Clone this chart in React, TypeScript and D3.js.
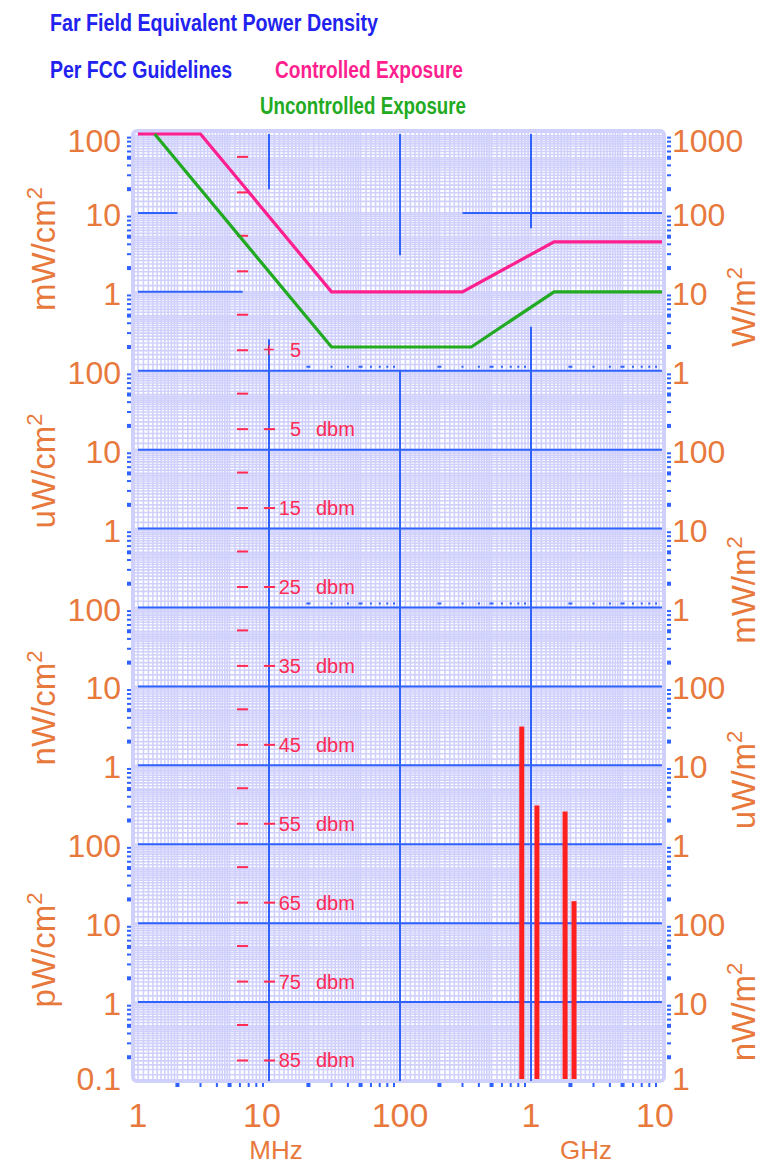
import React from "react";
import * as d3 from "d3";

const WIDTH = 778;
const HEIGHT = 1167;

// frequency in MHz, power density in mW/cm²
const controlledFreq = [1, 3, 30, 300, 1500, 10000];
const controlledDensity = [100, 100, 1, 1, 4.3, 4.3];
const uncontrolledFreq = [1.34, 30, 350, 1500, 10000];
const uncontrolledDensity = [100, 0.2, 0.2, 1, 1];

// measured signals
const signalFreq = [850, 1110, 1820, 2130];
const signalDensity = [3.1e-6, 3.1e-7, 2.6e-7, 1.9e-8];

const xTickValues = [1, 10, 100, 1000, 10000];
const xTickLabels = ["1", "10", "100", "1", "10"];

const yTickValues = [100, 10, 1, 0.1, 0.01, 0.001, 1e-4, 1e-5, 1e-6, 1e-7, 1e-8, 1e-9, 1e-10];
const leftTickLabels = ["100", "10", "1", "100", "10", "1", "100", "10", "1", "100", "10", "1", "0.1"];
const rightTickLabels = ["1000", "100", "10", "1", "100", "10", "1", "100", "10", "1", "100", "10", "1"];

const leftUnits = ["mW/cm", "uW/cm", "nW/cm", "pW/cm"];
const rightUnits = ["W/m", "mW/m", "uW/m", "nW/m"];

// dBm scale (density = 10^((dBm - offset)/10))
const dbmOffset = 12.4;
const dbmLabelValues = [5, -5, -15, -25, -35, -45, -55, -65, -75, -85];
const dbmTickValues = [29.5, 25, 19.5, 15, 9.5, 5, -0.5, -5, -10.5, -15, -20.5, -25, -30.5, -35, -40.5, -45, -50.5, -55, -60.5, -65, -70.5, -75, -80.5, -85];

// blue major grid segments
const majorHDensity = [10, 10, 1, 0.1, 0.01, 0.001, 1e-4, 1e-5, 1e-6, 1e-7, 1e-8, 1e-9];
const majorHFrom = [1, 300, 1, 1, 1, 1, 1, 1, 1, 1, 1, 1];
const majorHTo = [2, 10000, 6.3, 10000, 10000, 10000, 10000, 10000, 10000, 10000, 10000, 10000];
const majorVFreq = [10, 10, 100, 100, 1000, 1000];
const majorVTop = [100, 0.25, 100, 0.1, 100, 0.36];
const majorVBottom = [20, 1e-10, 2.9, 1e-10, 6.4, 1e-10];

// inner tick rows (density level)
const innerTickRowDensity = [0.1, 1e-4];

const ORANGE = "#e8793d";
const BLUE = "#2f62ff";
const LAVENDER = "#d0d0fc";
const PINK = "#ff1f8e";
const GREEN = "#22aa22";
const DBM_RED = "#ff2a55";
const BAR_RED = "#ff2020";
const TITLE_BLUE = "#2222f0";
const FONT = "'Liberation Sans', Arial, sans-serif";

const x = d3.scaleLog().domain([1, 10000]).range([138, 662]);
const y = d3.scaleLog().domain([100, 1e-10]).range([134, 1081]);
const dbmY = (d: number) => y(Math.pow(10, (d - dbmOffset) / 10));

function subdivisions(steps: [number, number, number][], decades: number[]) {
  const out: number[] = [];
  decades.forEach((k) => {
    const base = Math.pow(10, k);
    steps.forEach(([a, b, s]) => {
      d3.range(a, b - 1e-9, s).forEach((v) => out.push(v * base));
    });
  });
  return out;
}

const minorX = subdivisions([[1, 2, 0.1], [2, 5, 0.2], [5, 10, 0.5]], [0, 1, 2, 3]);
const minorY = subdivisions([[1, 2, 0.2], [2, 5, 0.25], [5, 10, 0.5]], d3.range(-10, 2));
const axisTickMult = [2, 3, 4, 5, 6, 7, 8, 9];

export default function App() {
  const left = x(1) - 5;
  const right = x(10000) + 2;
  const top = y(100) - 3;
  const bottom = y(1e-10);

  const line = d3
    .line<[number, number]>()
    .x((d) => x(d[0]))
    .y((d) => y(d[1]));

  const controlled = controlledFreq.map((f, i) => [f, controlledDensity[i]] as [number, number]);
  const uncontrolled = uncontrolledFreq.map((f, i) => [f, uncontrolledDensity[i]] as [number, number]);

  const xAxisTicks: { v: number; big: boolean }[] = [];
  [1, 10, 100, 1000].forEach((b) =>
    axisTickMult.forEach((m) => xAxisTicks.push({ v: b * m, big: m === 2 || m === 5 }))
  );
  const yAxisTicks: { v: number; big: boolean }[] = [];
  d3.range(-10, 2).forEach((k) =>
    axisTickMult.forEach((m) => yAxisTicks.push({ v: Math.pow(10, k) * m, big: m === 2 || m === 5 }))
  );
  const innerTicks = xAxisTicks.filter((t) => t.v >= 20);

  const unitCentersLeft = [249, 471, 708, 950];
  const unitCentersRight = [307, 590, 780, 1012];

  return (
    <div style={{ position: "absolute", left: 0, top: 0 }}>
      <svg width={WIDTH} height={HEIGHT} style={{ display: "block", background: "#fff" }}>
        {/* titles */}
        <g fontFamily={FONT} fontWeight="bold" fontSize={23}>
          <text x={50} y={31} fill={TITLE_BLUE} textLength={328} lengthAdjust="spacingAndGlyphs">
            Far Field Equivalent Power Density
          </text>
          <text x={50} y={78} fill={TITLE_BLUE} textLength={182} lengthAdjust="spacingAndGlyphs">
            Per FCC Guidelines
          </text>
          <text x={275} y={78} fill={PINK} textLength={188} lengthAdjust="spacingAndGlyphs">
            Controlled Exposure
          </text>
          <text x={260} y={114} fill={GREEN} textLength={206} lengthAdjust="spacingAndGlyphs">
            Uncontrolled Exposure
          </text>
        </g>

        {/* plot background */}
        <rect x={left} y={top} width={right - left} height={bottom - top} fill="#fff" />
        <g stroke={LAVENDER} strokeWidth={1.6}>
          {minorX.map((v, i) => (
            <line key={"mx" + i} x1={x(v)} x2={x(v)} y1={top} y2={bottom} />
          ))}
          {minorY.map((v, i) => (
            <line key={"my" + i} x1={left} x2={right} y1={y(v)} y2={y(v)} />
          ))}
        </g>
        <rect
          x={left}
          y={top}
          width={right - left}
          height={bottom - top}
          fill="none"
          stroke={LAVENDER}
          strokeWidth={4}
          rx={4}
        />

        {/* blue major grid */}
        <g stroke={BLUE} strokeWidth={2}>
          {majorHDensity.map((d, i) => (
            <line key={"h" + i} x1={x(majorHFrom[i])} x2={x(majorHTo[i])} y1={y(d)} y2={y(d)} />
          ))}
          {majorVFreq.map((f, i) => (
            <line key={"v" + i} x1={x(f)} x2={x(f)} y1={y(majorVTop[i])} y2={y(majorVBottom[i])} />
          ))}
        </g>

        {/* blue axis ticks */}
        <g fill={BLUE}>
          {xAxisTicks.map((t, i) => (
            <rect
              key={"bt" + i}
              x={x(t.v) - (t.big ? 2 : 1)}
              y={bottom + 2}
              width={t.big ? 4 : 2}
              height={4}
            />
          ))}
          {innerTickRowDensity.map((d, r) =>
            innerTicks.map((t, i) => (
              <rect
                key={"it" + r + "-" + i}
                x={x(t.v) - (t.big ? 2 : 1)}
                y={y(d) - 5}
                width={t.big ? 4 : 2}
                height={2}
              />
            ))
          )}
          {yAxisTicks.map((t, i) => (
            <g key={"yt" + i}>
              <rect x={left - 6} y={y(t.v) - (t.big ? 2 : 1)} width={4} height={t.big ? 4 : 2} />
              <rect x={right + 3} y={y(t.v) - (t.big ? 2 : 1)} width={4} height={t.big ? 4 : 2} />
            </g>
          ))}
        </g>

        {/* dBm scale */}
        <g fill={DBM_RED}>
          {dbmTickValues.map((d, i) => (
            <rect key={"dt" + i} x={237} y={dbmY(d) - 1} width={11} height={2} />
          ))}
        </g>
        <g fontFamily={FONT} fontSize={20} fill={DBM_RED}>
          {dbmLabelValues.map((d, i) => (
            <g key={"dl" + i}>
              {d > 0 ? (
                <text x={x(10)} y={dbmY(d) + 7} textAnchor="middle">
                  +
                </text>
              ) : (
                <rect x={x(10) - 5} y={dbmY(d) - 1} width={11} height={2} />
              )}
              <text x={301} y={dbmY(d) + 7} textAnchor="end">
                {Math.abs(d)}
              </text>
              {d < 0 && (
                <text x={316} y={dbmY(d) + 7}>
                  dbm
                </text>
              )}
            </g>
          ))}
        </g>

        {/* exposure limits */}
        <path d={line(controlled) || ""} fill="none" stroke={PINK} strokeWidth={3.2} />
        <path d={line(uncontrolled) || ""} fill="none" stroke={GREEN} strokeWidth={3.2} />

        {/* measured signals */}
        <g fill={BAR_RED}>
          {signalFreq.map((f, i) => (
            <rect
              key={"b" + i}
              x={x(f) - 2.5}
              y={y(signalDensity[i])}
              width={5}
              height={bottom - 2 - y(signalDensity[i])}
            />
          ))}
        </g>

        {/* axis labels */}
        <g fontFamily={FONT} fill={ORANGE} fontSize={32}>
          {yTickValues.map((v, i) => {
            const base = Math.min(Math.max(y(v) + 13, top + 21), bottom + 9);
            return (
              <g key={"yl" + i}>
                <text x={121} y={base} textAnchor="end">
                  {leftTickLabels[i]}
                </text>
                <text x={672} y={base}>
                  {rightTickLabels[i]}
                </text>
              </g>
            );
          })}
        </g>
        <g fontFamily={FONT} fill={ORANGE} fontSize={34}>
          {xTickValues.map((v, i) => (
            <text
              key={"xl" + i}
              x={x(v) - (xTickLabels[i] === "10" ? 7 : 0)}
              y={1127}
              textAnchor="middle"
            >
              {xTickLabels[i]}
            </text>
          ))}
        </g>
        <g fontFamily={FONT} fill={ORANGE} fontSize={26}>
          <text x={276} y={1159} textAnchor="middle">
            MHz
          </text>
          <text x={586} y={1159} textAnchor="middle">
            GHz
          </text>
        </g>
        <g fontFamily={FONT} fill={ORANGE} fontSize={33}>
          {leftUnits.map((u, i) => (
            <text
              key={"lu" + i}
              transform={`translate(55,${unitCentersLeft[i]}) rotate(-90)`}
              textAnchor="middle"
            >
              {u}
              <tspan dy={-13} fontSize={22}>
                2
              </tspan>
            </text>
          ))}
          {rightUnits.map((u, i) => (
            <text
              key={"ru" + i}
              transform={`translate(755,${unitCentersRight[i]}) rotate(-90)`}
              textAnchor="middle"
            >
              {u}
              <tspan dy={-13} fontSize={22}>
                2
              </tspan>
            </text>
          ))}
        </g>
      </svg>
    </div>
  );
}
